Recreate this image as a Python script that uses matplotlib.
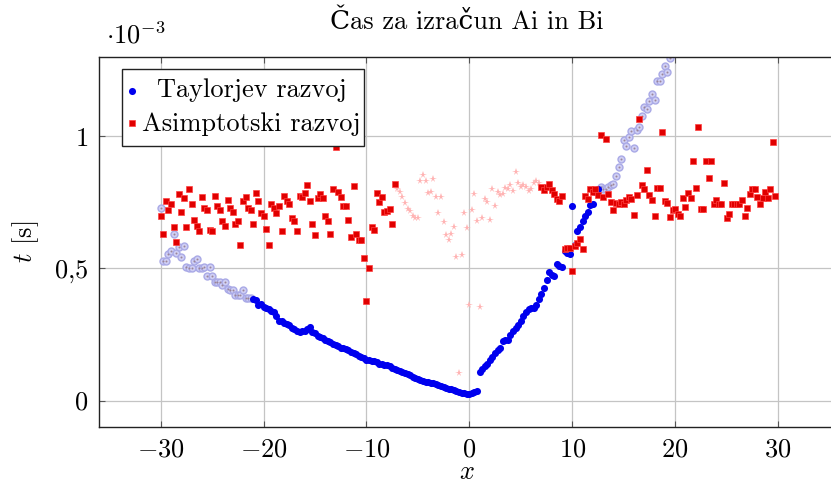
import numpy as np
import matplotlib
matplotlib.use('Agg')
import matplotlib.pyplot as plt
from matplotlib.patches import Rectangle
from matplotlib.ticker import FixedLocator, FuncFormatter

plt.rcParams['font.family'] = ['cmr10', 'DejaVu Serif']
plt.rcParams['mathtext.fontset'] = 'cm'
plt.rcParams['axes.formatter.use_mathtext'] = True
plt.rcParams['axes.unicode_minus'] = False

# ------------------------------------------------------------
# podatki: t v enotah 1e-3 s, x na mrezi s korakom 0.25
# ------------------------------------------------------------
KORAK = 0.25

# Taylorjev razvoj (uporabljen), x od -21 do 12.5
taylor_x0 = -21.0
taylor_t = [
    0.385, 0.38, 0.36, 0.365, 0.355, 0.35, 0.345, 0.34,
    0.335, 0.32, 0.30, 0.30, 0.295, 0.29, 0.285, 0.275,
    0.27, 0.265, 0.26, 0.265, 0.265, 0.27, 0.28, 0.26,
    0.255, 0.245, 0.24, 0.235, 0.23, 0.225, 0.22, 0.215,
    0.21, 0.205, 0.20, 0.20, 0.195, 0.19, 0.185, 0.18,
    0.175, 0.17, 0.165, 0.16, 0.155, 0.155, 0.15, 0.148,
    0.145, 0.14, 0.138, 0.135, 0.133, 0.13, 0.125, 0.12,
    0.115, 0.112, 0.108, 0.105, 0.10, 0.098, 0.09, 0.085,
    0.08, 0.078, 0.075, 0.072, 0.07, 0.068, 0.066, 0.062,
    0.058, 0.055, 0.05, 0.048, 0.045, 0.042, 0.04, 0.036,
    0.034, 0.03, 0.028, 0.026, 0.024, 0.028, 0.032, 0.036,
    0.11, 0.12, 0.13, 0.14, 0.155, 0.165, 0.18, 0.19,
    0.20, 0.225, 0.23, 0.228, 0.25, 0.265, 0.275, 0.285,
    0.30, 0.32, 0.335, 0.345, 0.35, 0.352, 0.36, 0.385,
    0.405, 0.425, 0.455, 0.485, 0.475, 0.47, 0.515, 0.51,
    0.505, 0.565, 0.56, 0.555, 0.735, 0.59, 0.64, 0.655,
    0.68, 0.70, 0.715, 0.74, 0.745, 0.79, 0.80,
]

# Taylorjev razvoj izven obmocja (bledo)
taylor_levo_x0 = -30.0
taylor_levo_t = [
    0.73, 0.53, 0.53, 0.555, 0.565, 0.63, 0.56, 0.58,
    0.545, 0.585, 0.505, 0.50, 0.50, 0.53, 0.535, 0.50,
    0.50, 0.505, 0.47, 0.505, 0.47, 0.45, 0.45, 0.448,
    0.436, 0.45, 0.423, 0.42, 0.42, 0.40, 0.40, 0.40,
    0.42, 0.39, 0.39, 0.39,
]
taylor_desno_x0 = 12.75
taylor_desno_t = [
    0.81, 0.80, 0.80, 0.81, 0.815, 0.82, 0.85, 0.885,
    0.915, 0.985, 0.965, 0.997, 1.02, 0.957, 1.023, 1.035,
    1.075, 1.11, 1.105, 1.134, 1.16, 1.136, 1.21, 1.21,
    1.235, 1.266, 1.243, 1.298,
]

# Asimptotski razvoj (uporabljen)
asim_levo_x0 = -30.0
asim_levo_t = [
    0.70, 0.63, 0.755, 0.72, 0.745, 0.655, 0.60, 0.78,
    0.715, 0.765, 0.655, 0.80, 0.745, 0.685, 0.66, 0.64,
    0.77, 0.73, 0.72, 0.645, 0.64, 0.775, 0.735, 0.72,
    0.68, 0.66, 0.76, 0.727, 0.713, 0.67, 0.68, 0.59,
    0.755, 0.77, 0.727, 0.72, 0.67, 0.785, 0.755, 0.71,
    0.70, 0.65, 0.59, 0.745, 0.73, 0.71, 0.735, 0.64,
    0.775, 0.757, 0.745, 0.69, 0.68, 0.64, 0.775, 0.77,
    0.786, 0.815, 0.755, 0.67, 0.625, 0.767, 0.78, 0.765,
    0.70, 0.68, 0.63, 0.80, 0.96, 0.79, 0.77, 0.735,
    0.735, 0.685, 0.62, 0.813, 0.63, 0.606, 0.606, 0.54,
    0.375, 0.50, 0.655, 0.645, 0.785, 0.75, 0.77, 0.713,
    0.717, 0.725, 0.67, 0.818,
]
asim_desno_x0 = 7.0
asim_desno_t = [
    0.808, 0.795, 0.808, 0.818, 0.795, 0.783, 0.763, 0.755,
    0.774, 0.575, 0.578, 0.578, 0.49, 0.585, 0.595, 0.61,
    0.573, 0.774, 0.764, 0.80, 0.79, 0.80, 0.778, 1.005,
    0.77, 0.99, 0.78, 0.75, 0.72, 0.747, 0.742, 0.751,
    0.745, 0.758, 0.77, 0.764, 0.703, 0.778, 1.064, 0.815,
    0.80, 0.871, 0.776, 0.76, 0.70, 0.804, 0.805, 1.018,
    0.755, 0.749, 0.694, 0.722, 0.726, 0.705, 0.697, 0.768,
    0.732, 0.785, 0.766, 0.905, 0.803, 1.035, 0.726, 0.726,
    0.906, 0.842, 0.905, 0.745, 0.758, 0.745, 0.745, 0.823,
    0.692, 0.707, 0.745, 0.745, 0.745, 0.744, 0.76, 0.698,
    0.728, 0.783, 0.80, 0.80, 0.77, 0.745, 0.768, 0.79,
    0.768, 0.80, 0.98, 0.774,
]

# Asimptotski razvoj v obmocju Taylorja (bledo)
asim_sredina_x0 = -7.0
asim_sredina_t = [
    0.80, 0.79, 0.77, 0.747, 0.726, 0.717, 0.697, 0.69,
    0.69, 0.83, 0.853, 0.83, 0.785, 0.79, 0.838, 0.77,
    0.71, 0.77, 0.675, 0.625, 0.608, 0.63, 0.655, 0.543,
    0.105, 0.552, 0.71, 0.653, 0.362, 0.722, 0.783, 0.68,
    0.353, 0.69, 0.763, 0.75, 0.685, 0.80, 0.737, 0.79,
    0.776, 0.78, 0.804, 0.80, 0.815, 0.793, 0.865, 0.823,
    0.81, 0.815, 0.808, 0.793, 0.80, 0.823, 0.83, 0.823,
]

legenda = ['Taylorjev razvoj', 'Asimptotski razvoj']


def mreza(x0, t):
    return x0 + KORAK * np.arange(len(t))


W, H = 831, 486
FS = 19


def fx(px):
    return px / W


def fy(py):
    return 1 - py / H


# ------------------------------------------------------------
# risanje
# ------------------------------------------------------------
fig = plt.figure(figsize=(W / 100, H / 100), dpi=100)
ax = fig.add_axes([fx(99), fy(427), 740.7 / W, 370 / H])

modra = dict(marker='o', ms=5.1, color='#0000ee', mew=0, ls='none')
rdeca = dict(marker='s', ms=4.8, mfc='#e00000', mec='#ff4040', mew=0.5, ls='none')

# blede tocke
for x0, t in [(taylor_levo_x0, taylor_levo_t), (taylor_desno_x0, taylor_desno_t)]:
    xs = mreza(x0, t)
    ax.plot(xs, t, 'o', ms=5.0, mfc='#cfcff4', mec='#a9a9e6', mew=1.0, zorder=2)
    ax.plot(xs, t, 'o', ms=1.4, color='#9c8696', mew=0, zorder=2.1)
ax.plot(mreza(asim_sredina_x0, asim_sredina_t), asim_sredina_t, '*',
        ms=5.5, color='#ffb3b3', mew=0, zorder=2)

# glavne serije
ax.plot(mreza(taylor_x0, taylor_t), taylor_t, zorder=3, **modra)
ax.plot(mreza(asim_levo_x0, asim_levo_t), asim_levo_t, zorder=3, **rdeca)
ax.plot(mreza(asim_desno_x0, asim_desno_t), asim_desno_t, zorder=3, **rdeca)

ax.set_xlim(-36, 36)
ax.set_ylim(-0.1, 1.3)

ax.xaxis.set_major_locator(FixedLocator([-30, -20, -10, 0, 10, 20, 30]))
ax.yaxis.set_major_locator(FixedLocator([0, 0.5, 1]))
ax.xaxis.set_major_formatter(FuncFormatter(lambda v, p: r'$%d$' % v))
ax.yaxis.set_major_formatter(FuncFormatter(
    lambda v, p: (r'$%g$' % v).replace('.', '{,}')))

ax.grid(True, color='#c4c4c4', lw=0.9)
ax.set_axisbelow(True)
ax.tick_params(direction='in', length=4, width=0.8, color='#555555',
               top=True, right=True, labelsize=FS, pad=8)
for s in ax.spines.values():
    s.set_linewidth(1.0)
    s.set_color('#222222')

fig.text(fx(467), fy(22), 'Čas za izračun Ai in Bi', ha='center', va='center',
         fontsize=FS)
fig.text(fx(106), fy(35), r'$\cdot 10^{-3}$', ha='left', va='center', fontsize=FS)
ax.set_xlabel('$x$', fontsize=FS)
ax.xaxis.set_label_coords(0.496, (427 - 472) / 370)
ax.xaxis.label.set_va('center')
ax.set_ylabel('$t$ [s]', fontsize=FS)
ax.yaxis.set_label_coords((26 - 99) / 740.7, (427 - 242) / 370)
ax.yaxis.label.set_va('center')

# legenda (besedilo sredinsko poravnano kot v pgfplots)
ax.add_patch(Rectangle((fx(121.7), fy(145.7)), fx(364) - fx(121.7), fy(69) - fy(145.7),
                       transform=fig.transFigure, facecolor='white',
                       edgecolor='#222222', lw=1.0, zorder=5, clip_on=False))
ax.plot([fx(132.3)], [fy(91)], transform=fig.transFigure, clip_on=False,
        zorder=6, **modra)
ax.plot([fx(132.3)], [fy(122.7)], transform=fig.transFigure, clip_on=False,
        zorder=6, **rdeca)
ax.text(fx(252), fy(97.3), legenda[0], transform=fig.transFigure,
        ha='center', va='baseline', fontsize=FS, zorder=6)
ax.text(fx(251), fy(131), legenda[1], transform=fig.transFigure,
        ha='center', va='baseline', fontsize=FS, zorder=6)

fig.savefig('out.png', dpi=100)
